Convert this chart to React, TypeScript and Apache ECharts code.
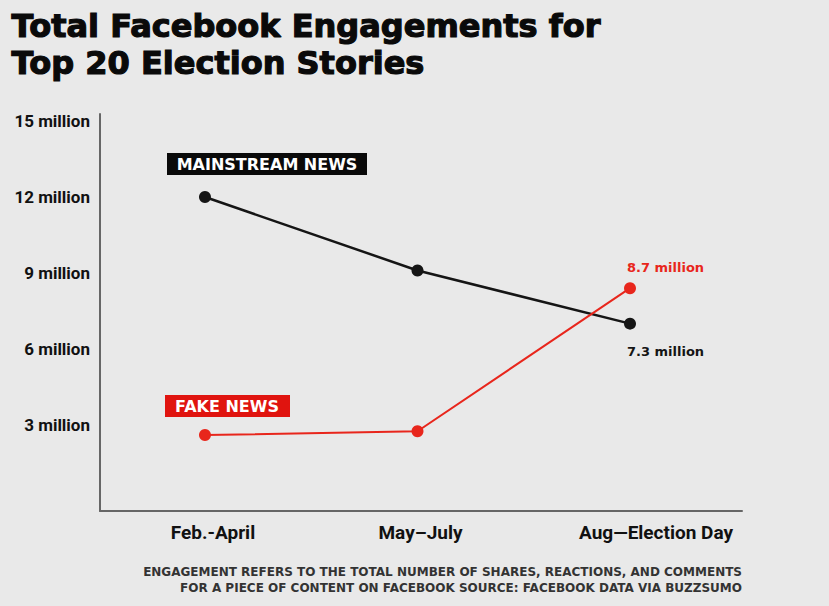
import React, { useEffect, useRef } from "react";
import * as echarts from "echarts";

const periods = ["Feb.-April", "May\u2013July", "Aug\u2014Election Day"];
const mainstreamNews = [12.0, 9.1, 7.0];
const fakeNews = [2.6, 2.75, 8.4];
const yTicks = [3, 6, 9, 12, 15];
const mainstreamEndLabel = "7.3 million";
const fakeEndLabel = "8.7 million";
const titleLines = ["Total Facebook Engagements for", "Top 20 Election Stories"];
const noteLines = [
  "ENGAGEMENT REFERS TO THE TOTAL NUMBER OF SHARES, REACTIONS, AND COMMENTS",
  "FOR A PIECE OF CONTENT ON FACEBOOK SOURCE: FACEBOOK DATA VIA BUZZSUMO",
];

const BG = "#e9e9e9";
const BLACK = "#151515";
const RED = "#e8261c";
const FONT = "Roboto";
const WIDE = "DejaVu Sans";

export default function App() {
  const ref = useRef<HTMLDivElement>(null);
  useEffect(() => {
    document.body.style.margin = "0";
    const chart = echarts.init(ref.current!, null, { renderer: "svg" });
    const last = periods.length - 1;
    const mkData = (vals: number[], labelText: string, color: string, offY: number) =>
      vals.map((v, i) =>
        i === last
          ? {
              value: [i, v],
              label: {
                show: true,
                formatter: labelText,
                position: [3, offY],
                align: "left",
                verticalAlign: "middle",
                color,
                fontFamily: WIDE,
                fontWeight: "bold",
                fontSize: 13,
              },
            }
          : [i, v]
      );
    const labelStyle = { color: "#111", fontFamily: FONT, fontWeight: "bold", fontSize: 19 };
    const titleStyle = (text: string) => ({
      text,
      font: `bold 32px "${WIDE}"`,
      lineHeight: 37,
      fill: "#0a0a0a",
      stroke: "#0a0a0a",
      lineWidth: 1.2,
    });
    const noteStyle = (text: string) => ({
      text,
      font: `bold 12px "${WIDE}"`,
      fill: "#333",
    });
    chart.setOption({
      animation: false,
      backgroundColor: BG,
      grid: { left: 100, right: 87, top: 114, bottom: 95 },
      xAxis: {
        type: "value",
        min: -0.494,
        max: 2.527,
        axisLine: { show: true, onZero: false, lineStyle: { color: "#666", width: 2 } },
        axisTick: { show: false },
        splitLine: { show: false },
        axisLabel: {
          customValues: periods.map((_, i) => i),
          margin: 12,
          formatter: (v: number) => {
            const i = Math.round(v);
            const key = i === 0 ? "a" : i === last ? "c" : "b";
            return `{${key}|${periods[i]}}`;
          },
          rich: {
            a: { ...labelStyle, padding: [0, 0, 0, 16] },
            b: { ...labelStyle, padding: [0, 0, 0, 6] },
            c: { ...labelStyle, padding: [0, 0, 0, 52] },
          },
        },
      },
      yAxis: {
        type: "value",
        min: -0.4,
        max: 15.28,
        axisLine: { show: true, onZero: false, lineStyle: { color: "#666", width: 2 } },
        axisTick: { show: false },
        splitLine: { show: false },
        axisLabel: {
          customValues: yTicks,
          formatter: (v: number) => `${v} million`,
          margin: 10,
          color: "#111",
          fontFamily: FONT,
          fontWeight: "bold",
          fontSize: 17,
        },
      },
      series: [
        {
          name: "Mainstream News",
          type: "line",
          data: mkData(mainstreamNews, mainstreamEndLabel, BLACK, 34),
          symbol: "circle",
          symbolSize: 12,
          itemStyle: { color: BLACK },
          lineStyle: { color: BLACK, width: 2.5 },
          z: 3,
        },
        {
          name: "Fake News",
          type: "line",
          data: mkData(fakeNews, fakeEndLabel, RED, -15),
          symbol: "circle",
          symbolSize: 12,
          itemStyle: { color: RED },
          lineStyle: { color: RED, width: 2 },
          z: 4,
        },
      ],
      graphic: [
        { type: "text", left: 11, top: 7, style: titleStyle(titleLines[0]) },
        { type: "text", left: 11, top: 44, style: titleStyle(titleLines[1]) },
        {
          type: "group",
          left: 167,
          top: 153,
          children: [
            { type: "rect", shape: { x: 0, y: 0, width: 200, height: 22 }, style: { fill: "#0a0a0a" } },
            {
              type: "text",
              x: 100,
              y: 11,
              style: {
                text: "MAINSTREAM NEWS",
                fill: "#fff",
                font: `bold 16px "${WIDE}"`,
                align: "center",
                verticalAlign: "middle",
              },
            },
          ],
        },
        {
          type: "group",
          left: 165,
          top: 395,
          children: [
            { type: "rect", shape: { x: 0, y: 0, width: 125, height: 22 }, style: { fill: "#e0140f" } },
            {
              type: "text",
              x: 62,
              y: 11,
              style: {
                text: "FAKE NEWS",
                fill: "#fff",
                font: `bold 16px "${WIDE}"`,
                align: "center",
                verticalAlign: "middle",
              },
            },
          ],
        },
        { type: "text", right: 87, top: 566, style: noteStyle(noteLines[0]) },
        { type: "text", right: 87, top: 582, style: noteStyle(noteLines[1]) },
      ],
    });
    return () => chart.dispose();
  }, []);
  return (
    <div
      ref={ref}
      style={{ position: "absolute", left: 0, top: 0, width: 829, height: 606, background: BG }}
    />
  );
}
